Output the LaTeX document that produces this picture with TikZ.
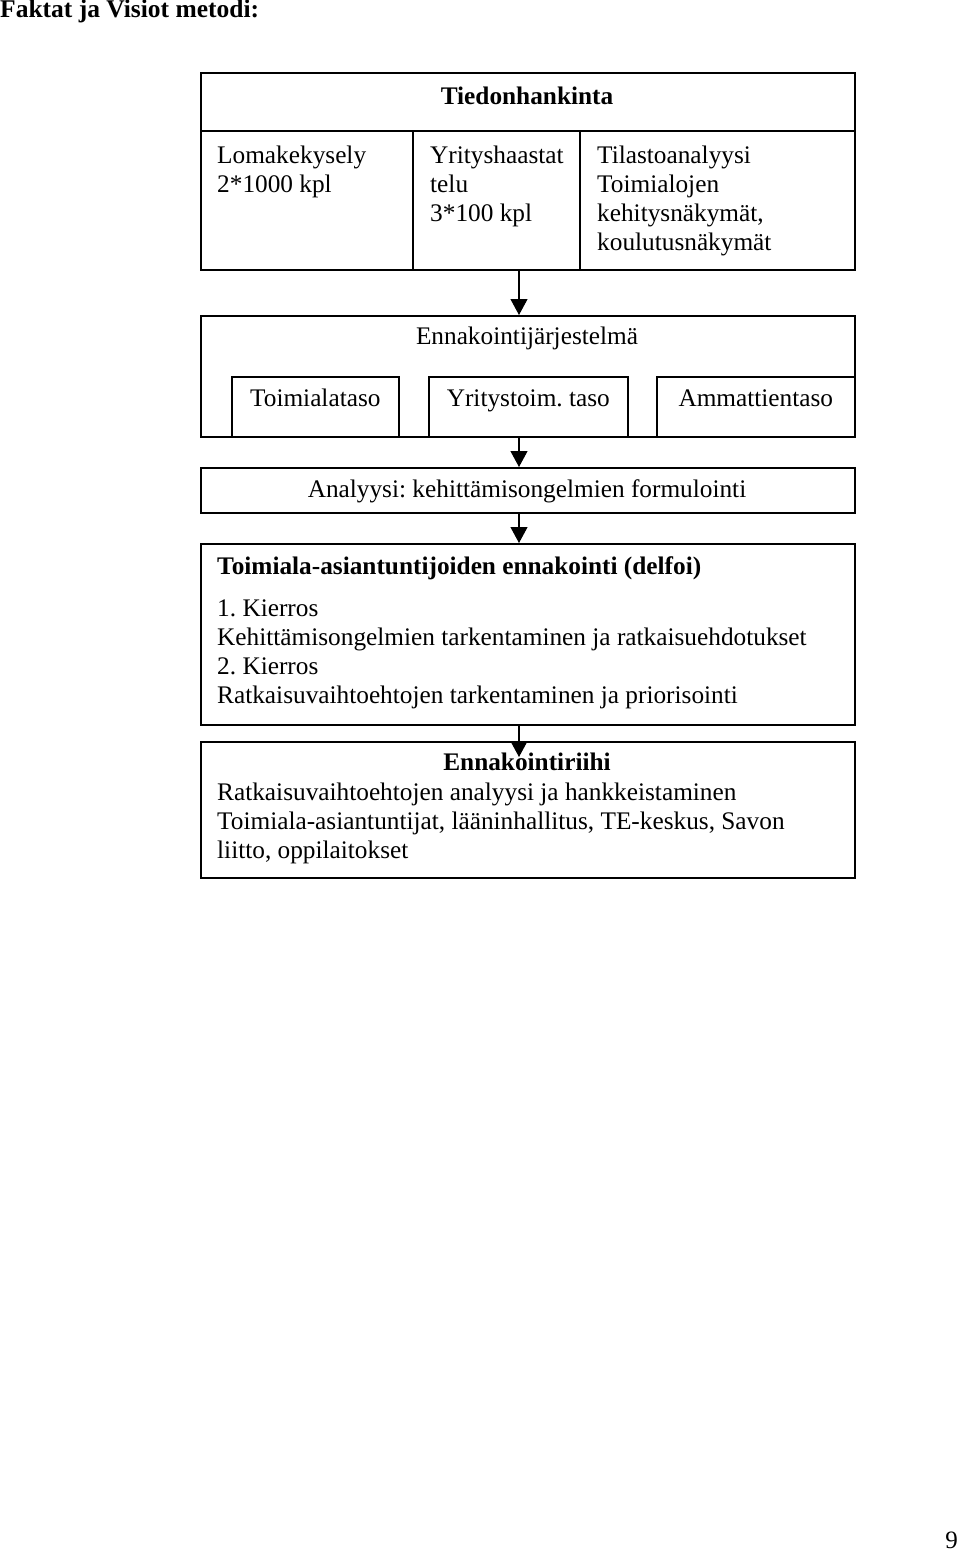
\documentclass[tikz,border=0pt]{standalone}
\usepackage{fontspec}
\setmainfont{Liberation Serif}
\usetikzlibrary{arrows.meta}
\frenchspacing
\begin{document}
\begin{tikzpicture}[x=1pt,y=-1pt,
  box/.style={draw, line width=1.6pt, inner sep=0pt, anchor=north west},
  txt/.style={inner sep=0pt, anchor=base west, font=\fontsize{25.3}{29}\selectfont},
  ctxt/.style={inner sep=0pt, anchor=base, font=\fontsize{25.3}{29}\selectfont},
  arr/.style={line width=1.1pt, -{Triangle[width=17pt,length=16pt]}}]
\useasboundingbox (0,0) rectangle (960,1551);
\fill[white] (0,0) rectangle (960,1551);
% title and page number
\node[inner sep=0pt, anchor=base west, font=\fontsize{25.5}{29}\selectfont\bfseries] (title) at (0,17) {Faktat ja Visiot metodi:};
\node[inner sep=0pt, anchor=base east, font=\fontsize{25}{29}\selectfont] (page) at (958,1548) {9};
% box 1
\node[box, minimum width=654pt, minimum height=197pt] (b1) at (200,72) {};
\draw[line width=1.6pt] (b1.west |- 0,131) coordinate (h1) -- (b1.east |- 0,131) coordinate (h2);
\draw[line width=1.6pt] (413,131) coordinate (v1a) -- (v1a |- b1.south);
\draw[line width=1.6pt] (580,131) coordinate (v2a) -- (v2a |- b1.south);
\node[ctxt, font=\fontsize{25.3}{29}\selectfont\bfseries] (t0) at (527,104) {Tiedonhankinta};
\node[txt] (t1a) at (217,163) {Lomakekysely};
\node[txt] (t1b) at (217,192) {2*1000 kpl};
\node[txt] (t2a) at (430,163) {Yrityshaastat};
\node[txt] (t2b) at (430,192) {telu};
\node[txt] (t2c) at (430,221) {3*100 kpl};
\node[txt] (t3a) at (597,163) {Tilastoanalyysi};
\node[txt] (t3b) at (597,192) {Toimialojen};
\node[txt] (t3c) at (597,221) {kehitysnäkymät,};
\node[txt] (t3d) at (597,250) {koulutusnäkymät};
% box 2
\node[box, minimum width=654pt, minimum height=121pt] (b2) at (200,315) {};
\node[ctxt] (t4) at (527,344) {Ennakointijärjestelmä};
\node[box, minimum width=167pt, minimum height=60pt] (i1) at (231,376) {};
\node[box, minimum width=199pt, minimum height=60pt] (i2) at (428,376) {};
\node[box, minimum width=198pt, minimum height=60pt] (i3) at (656,376) {};
\node[ctxt] (t5) at (i1.center |- 0,406) {Toimialataso};
\node[ctxt] (t6) at (i2.center |- 0,406) {Yritystoim. taso};
\node[ctxt] (t7) at (i3.center |- 0,406) {Ammattientaso};
% box 3
\node[box, minimum width=654pt, minimum height=45pt] (b3) at (200,467) {};
\node[ctxt] (t8) at (527,497) {Analyysi: kehittämisongelmien formulointi};
% box 4
\node[box, minimum width=654pt, minimum height=181pt] (b4) at (200,543) {};
\node[txt, font=\fontsize{25.3}{29}\selectfont\bfseries] (t9) at (217,574) {Toimiala-asiantuntijoiden ennakointi (delfoi)};
\node[txt] (t10) at (217,616) {1. Kierros};
\node[txt] (t11) at (217,645) {Kehittämisongelmien tarkentaminen ja ratkaisuehdotukset};
\node[txt] (t12) at (217,674) {2. Kierros};
\node[txt] (t13) at (217,703) {Ratkaisuvaihtoehtojen tarkentaminen ja priorisointi};
% box 5
\node[box, minimum width=654pt, minimum height=136pt] (b5) at (200,741) {};
\node[ctxt, font=\fontsize{25.3}{29}\selectfont\bfseries] (t14) at (527,770) {Ennakointiriihi};
\node[txt] (t15) at (217,800) {Ratkaisuvaihtoehtojen analyysi ja hankkeistaminen};
\node[txt] (t16) at (217,829) {Toimiala-asiantuntijat, lääninhallitus, TE-keskus, Savon};
\node[txt] (t17) at (217,858) {liitto, oppilaitokset};
% arrows
\coordinate (ax) at (519,0);
\draw[arr] (ax |- b1.south) -- (ax |- b2.north);
\draw[arr] (ax |- b2.south) -- (ax |- b3.north);
\draw[arr] (ax |- b3.south) -- (ax |- b4.north);
\draw[arr] (ax |- b4.south) -- ([yshift=-16pt]ax |- b5.north);
\end{tikzpicture}
\end{document}
